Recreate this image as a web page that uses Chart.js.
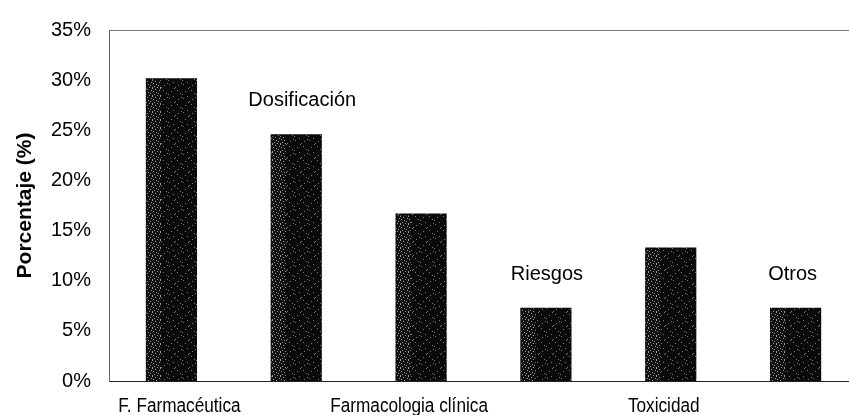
<!DOCTYPE html>
<html>
<head>
<meta charset="utf-8">
<script src="https://cdn.jsdelivr.net/npm/chart.js@4/dist/chart.umd.min.js"></script>
<style>
  html, body { margin: 0; padding: 0; background: #fff; overflow: hidden; }
  #wrap { width: 858px; height: 415px; position: relative; }
</style>
</head>
<body>
<div id="wrap"><canvas id="c" width="858" height="415"></canvas></div>
<script>
const categories = ["F. Farmacéutica", "Dosificación", "Farmacologia clínica", "Riesgos", "Toxicidad", "Otros"];
const values = [30.2, 24.6, 16.7, 7.3, 13.3, 7.3];
const yTicks = [0, 5, 10, 15, 20, 25, 30, 35];
const yTitle = "Porcentaje (%)";

const FONT = "'Liberation Sans', Arial, sans-serif";

function dotPattern(bg, fg, dots, size) {
  const p = document.createElement('canvas');
  p.width = size; p.height = size;
  const g = p.getContext('2d');
  g.fillStyle = bg;
  g.fillRect(0, 0, size, size);
  g.fillStyle = fg;
  dots.forEach(d => g.fillRect(d[0], d[1], 1, 1));
  return g.createPattern(p, 'repeat');
}
const darkFill = dotPattern('#0a0a0a', '#7a7a7a',
  [[1,0],[7,3],[3,7],[10,1],[12,9],[5,12],[9,6],[0,10],[13,13],[6,4]], 14);
const lightFill = dotPattern('#101010', '#9c9c9c',
  [[0,0],[3,1],[1,3],[4,4],[2,6],[5,7],[7,2],[6,5],[0,7]], 8);

const decor = {
  id: 'decor',
  afterDatasetsDraw(chart) {
    const {ctx} = chart;
    const meta = chart.getDatasetMeta(0);
    ctx.save();
    meta.data.forEach(bar => {
      const left = bar.x - bar.width / 2;
      ctx.fillStyle = lightFill;
      ctx.fillRect(left + 1, bar.y + 2, bar.width * 0.28, bar.base - bar.y - 2);
    });
    ctx.restore();
  },
  afterDraw(chart) {
    const {ctx, chartArea, scales} = chart;
    const meta = chart.getDatasetMeta(0);
    ctx.save();
    // top frame line
    ctx.strokeStyle = '#7a7a7a';
    ctx.lineWidth = 1;
    ctx.beginPath();
    ctx.moveTo(chartArea.left, chartArea.top + 0.5);
    ctx.lineTo(chartArea.right, chartArea.top + 0.5);
    ctx.stroke();

    ctx.fillStyle = '#000';
    ctx.textAlign = 'center';
    ctx.textBaseline = 'alphabetic';

    // labels above the even bars
    ctx.font = "20px " + FONT;
    const upShift = [0, 6, 0, 1, 0, -3];
    categories.forEach((c, i) => {
      if (i % 2 === 1) {
        const x = meta.data[i].x + upShift[i];
        const y = scales.y.getPixelForValue(values[i]) - 28;
        ctx.fillText(c, x, y);
      }
    });

    // labels under the odd bars (condensed)
    const downShift = [8, 0, -12, 0, -7, 0];
    categories.forEach((c, i) => {
      if (i % 2 === 0) {
        const x = meta.data[i].x + downShift[i];
        const y = chartArea.bottom + 31;
        ctx.save();
        ctx.translate(x, y);
        ctx.scale(0.86, 1);
        ctx.font = "20px " + FONT;
        ctx.fillText(c, 0, 0);
        ctx.restore();
      }
    });

    // y axis title
    ctx.save();
    ctx.translate(25, (chartArea.top + chartArea.bottom) / 2);
    ctx.rotate(-Math.PI / 2);
    ctx.font = "bold 21px " + FONT;
    ctx.textBaseline = 'middle';
    ctx.fillText(yTitle, 0, 0);
    ctx.restore();

    ctx.restore();
  }
};

new Chart(document.getElementById('c'), {
  type: 'bar',
  data: {
    labels: categories,
    datasets: [{
      data: values,
      backgroundColor: darkFill,
      borderWidth: 0,
      barPercentage: 0.82,
      categoryPercentage: 0.5
    }]
  },
  options: {
    responsive: false,
    animation: false,
    layout: { padding: { top: 28, left: 0, right: 0, bottom: 0 } },
    plugins: { legend: { display: false }, tooltip: { enabled: false } },
    scales: {
      x: {
        grid: { display: false, drawTicks: false },
        border: { display: true, color: '#222', width: 1 },
        ticks: { display: false },
        afterFit: (s) => { s.height = 34; }
      },
      y: {
        min: 0, max: 35,
        afterBuildTicks: (s) => { s.ticks = yTicks.map(v => ({ value: v })); },
        grid: { display: false, drawTicks: false },
        border: { display: true, color: '#666', width: 1 },
        ticks: {
          color: '#000',
          font: { size: 20, family: FONT },
          padding: 18,
          callback: (v) => v + '%'
        },
        afterFit: (s) => { s.width = 109; }
      }
    }
  },
  plugins: [decor]
});
</script>
</body>
</html>
